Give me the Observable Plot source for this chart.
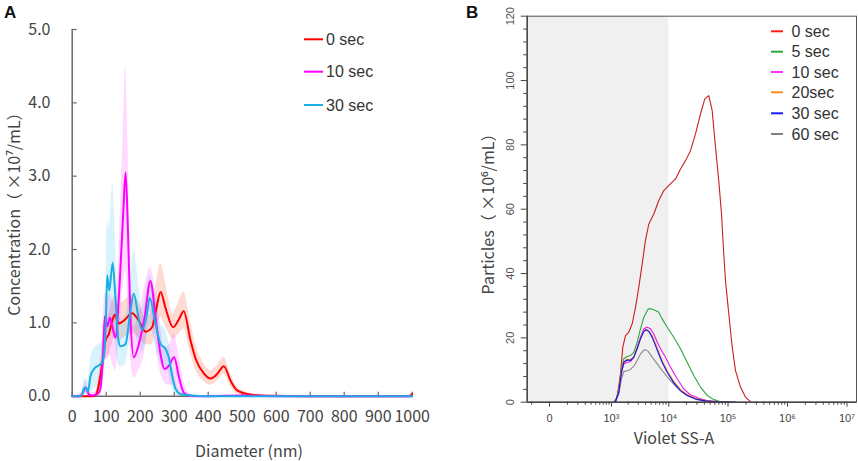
<!DOCTYPE html>
<html><head><meta charset="utf-8">
<script src="https://cdn.jsdelivr.net/npm/d3@7"></script>
<script src="https://cdn.jsdelivr.net/npm/@observablehq/plot@0.6"></script>
<style>
body{margin:0;background:#fff;}
#wrap{position:relative;width:858px;height:461px;overflow:hidden;}
#wrap > svg{position:absolute;top:0;}
</style></head><body><div id="wrap"></div>
<script>
const FONT = "'Noto Sans CJK JP','Noto Sans',sans-serif";
const LEGFONT = "'Liberation Sans',Arial,sans-serif";

// ---------- Panel A data (Diameter nm vs concentration x10^7/mL) ----------
const redD  = [0, 60, 70, 80, 90, 98, 108, 118, 125, 137, 152, 176, 196, 216, 235, 248, 260, 274, 297, 314, 328, 348, 363, 387, 407, 426, 446, 466, 485, 515, 554, 600, 700, 800, 900, 990, 1000];
const redV  = [0, 0, 0.02, 0.2, 0.5, 0.76, 0.85, 1.03, 1.11, 0.99, 1.03, 1.13, 1.03, 0.88, 0.94, 1.21, 1.42, 1.21, 0.94, 1.05, 1.16, 0.76, 0.51, 0.31, 0.24, 0.3, 0.41, 0.21, 0.08, 0.03, 0.01, 0.005, 0, 0, 0, 0, 0.03];
const redLo = [0, 0, 0, 0.08, 0.28, 0.5, 0.58, 0.72, 0.8, 0.75, 0.8, 0.86, 0.8, 0.7, 0.7, 0.95, 1.08, 0.95, 0.78, 0.85, 0.92, 0.58, 0.36, 0.2, 0.15, 0.2, 0.3, 0.13, 0.03, 0, 0, 0, 0, 0, 0, 0, 0];
const redHi = [0, 0, 0.05, 0.35, 0.75, 0.98, 1.1, 1.3, 1.36, 1.25, 1.3, 1.38, 1.28, 1.06, 1.18, 1.55, 1.81, 1.55, 1.12, 1.3, 1.42, 1.0, 0.7, 0.45, 0.35, 0.42, 0.53, 0.3, 0.13, 0.05, 0.02, 0.01, 0.01, 0.01, 0.01, 0.01, 0.05];

const magD  = [0, 20, 30, 39, 50, 60, 75, 83, 90, 96, 103, 111, 118, 127, 140, 150, 157, 164, 171, 181, 196, 213, 230, 245, 258, 272, 285, 300, 314, 328, 343, 360, 400, 500, 600, 1000];
const magV  = [0, 0, 0.03, 0.12, 0.02, 0.01, 0.03, 0.1, 0.5, 1.09, 0.95, 1.07, 0.95, 0.8, 1.58, 2.49, 3.05, 2.26, 1.12, 0.53, 0.71, 1.08, 1.57, 1.08, 0.62, 0.37, 0.42, 0.53, 0.26, 0.05, 0.01, 0, 0, 0.01, 0, 0];
const magLo = [0, 0, 0, 0.05, 0, 0, 0, 0.02, 0.2, 0.5, 0.5, 0.55, 0.45, 0.35, 0.9, 1.5, 1.7, 1.3, 0.6, 0.25, 0.35, 0.6, 1.15, 0.7, 0.35, 0.18, 0.15, 0.15, 0.05, 0, 0, 0, 0, 0, 0, 0];
const magHi = [0, 0.02, 0.08, 0.2, 0.08, 0.05, 0.08, 0.25, 0.9, 1.4, 1.3, 1.4, 1.3, 1.25, 2.3, 3.6, 4.5, 3.4, 1.8, 0.95, 1.1, 1.5, 1.75, 1.45, 1.0, 0.65, 0.7, 0.85, 0.55, 0.2, 0.05, 0.01, 0.01, 0.02, 0.01, 0.01];

const cyaD  = [0, 25, 30, 34, 40, 46, 54, 64, 78, 88, 93, 98, 103, 109, 119, 127, 135, 142, 157, 169, 181, 196, 206, 218, 228, 245, 260, 274, 284, 294, 304, 318, 350, 400, 1000];
const cyaV  = [0, 0, 0.03, 0.1, 0.12, 0.06, 0.28, 0.37, 0.42, 0.46, 0.55, 0.85, 1.65, 1.44, 1.82, 1.35, 0.8, 0.68, 0.71, 1.08, 1.4, 1.05, 0.9, 1.08, 1.34, 0.99, 0.71, 0.65, 0.53, 0.28, 0.1, 0.03, 0.01, 0, 0];
const cyaLo = [0, 0, 0, 0.02, 0.03, 0, 0.05, 0.1, 0.15, 0.2, 0.25, 0.45, 1.0, 0.8, 1.0, 0.7, 0.45, 0.4, 0.45, 0.75, 0.9, 0.7, 0.6, 0.75, 0.95, 0.7, 0.45, 0.4, 0.3, 0.12, 0.02, 0, 0, 0, 0];
const cyaHi = [0, 0.02, 0.1, 0.2, 0.25, 0.2, 0.5, 0.65, 0.7, 0.75, 0.9, 1.3, 2.4, 2.3, 2.9, 2.2, 1.3, 1.05, 1.1, 1.5, 2.0, 1.5, 1.2, 1.4, 1.65, 1.35, 1.0, 0.9, 0.75, 0.45, 0.2, 0.06, 0.02, 0, 0];

const xTicksA = [0, 100, 200, 300, 400, 500, 600, 700, 800, 900, 1000];
const yTicksA = [0, 1, 2, 3, 4, 5];
const legendA = ["0 sec", "10 sec", "30 sec"];

// ---------- Panel B data (Violet SS-A vs particles x10^6/mL) ----------
const redX  = [1105, 1272, 1460, 1606, 1793, 2055, 2355, 2690, 3070, 3515, 4000, 4570, 5560, 6770, 8240, 10020, 13020, 15820, 19220, 23340, 28340, 34400, 40640, 47430, 54100, 61560, 69880, 77700, 84850, 90680, 103000, 117700, 133600, 162100, 196700, 238700];
const redY  = [0, 1.6, 8.8, 17.1, 20.7, 21.8, 24.4, 29.5, 35.8, 43.0, 50.3, 55.4, 58.5, 62.7, 65.8, 67.4, 69.4, 72.5, 75.1, 78.2, 83.4, 89.6, 94.3, 95.3, 90.7, 79.3, 68.9, 58.5, 46.1, 37.8, 27.5, 17.1, 9.8, 4.7, 1.6, 0.2];
const greenX = [1100, 1186, 1362, 1522, 1674, 1923, 2196, 2512, 2878, 3283, 3746, 4460, 5080, 5950, 6770, 7730, 9410, 12170, 15820, 20510, 26510, 34410, 44570, 57580, 79700];
const greenY = [0, 0.2, 4.1, 10.4, 13.5, 14.2, 14.5, 15.5, 18.7, 22.8, 26.4, 29.0, 29.0, 28.5, 28.0, 25.9, 23.3, 20.2, 16.6, 12.4, 8.3, 4.7, 2.1, 0.8, 0];
const magX  = [1100, 1186, 1362, 1522, 1674, 1923, 2196, 2512, 2878, 3283, 3746, 4285, 4880, 5560, 6360, 7240, 8810, 10710, 13900, 17970, 23340, 32180, 47430, 70000, 134000];
const magY  = [0, 0.2, 3.6, 9.3, 11.9, 12.4, 12.6, 14.0, 17.1, 20.2, 22.8, 23.3, 22.8, 21.2, 18.7, 16.6, 14.0, 10.9, 7.3, 4.1, 2.3, 1.2, 0.4, 0.2, 0];
const orangeX = [1100, 1186, 1362, 1522, 1674, 1923, 2196, 2512, 2878, 3283, 3746, 4117, 4567, 5220, 5950, 6770, 7730, 9410, 12170, 15820, 20510, 28340, 41780, 57580, 80000, 134000];
const orangeY = [0, 0.2, 3.3, 9.6, 12.6, 13.3, 13.2, 14.2, 16.8, 19.9, 22.2, 22.6, 22.1, 20.6, 18.2, 15.5, 12.8, 9.8, 6.5, 3.9, 2.4, 1.2, 0.5, 0.2, 0.1, 0];
const blueX = [1100, 1186, 1362, 1522, 1674, 1923, 2196, 2512, 2878, 3283, 3746, 4117, 4567, 5220, 5950, 6770, 7730, 9410, 12170, 15820, 20510, 28340, 41780, 57580, 80000, 134000];
const blueY = [0, 0.2, 3.1, 9.3, 12.4, 13.1, 13.0, 14.0, 16.6, 19.7, 22.0, 22.5, 22.0, 20.2, 17.6, 15.0, 12.4, 9.3, 6.0, 3.6, 2.1, 1.0, 0.4, 0.2, 0.1, 0];
const grayX = [1100, 1186, 1362, 1522, 1674, 1923, 2196, 2512, 2878, 3283, 3899, 4460, 5220, 6360, 7730, 10020, 13020, 16880, 21830, 30240, 41780, 60000, 100000];
const grayY = [0, 0.2, 2.6, 7.3, 9.5, 9.8, 10.2, 11.2, 13.0, 15.0, 16.4, 15.8, 14.0, 11.9, 9.8, 7.3, 5.0, 3.1, 1.9, 0.8, 0.3, 0.1, 0];

const legendB = ["0 sec", "5 sec", "10 sec", "20sec", "30 sec", "60 sec"];
const xMajorB = [0, 1e3, 1e4, 1e5, 1e6, 1e7];
const xLabelsB = ["0", "10³", "10⁴", "10⁵", "10⁶", "10⁷"];
const xMinorB = [-100, 100, 200, 300, 400, 500, 600, 700, 800, 900,
  2e3, 3e3, 4e3, 5e3, 6e3, 7e3, 8e3, 9e3, 2e4, 3e4, 4e4, 5e4, 6e4, 7e4, 8e4, 9e4,
  2e5, 3e5, 4e5, 5e5, 6e5, 7e5, 8e5, 9e5, 2e6, 3e6, 4e6, 5e6, 6e6, 7e6, 8e6, 9e6];
const yMajorB = [0, 20, 40, 60, 80, 100, 120];
const yMinorB = [4, 8, 12, 16, 24, 28, 32, 36, 44, 48, 52, 56, 64, 68, 72, 76, 84, 88, 92, 96, 104, 108, 112, 116];
const gateMaxB = 1e4;

// ---------- build ----------
const rowsA = (d, v, lo, hi) => d.map((x, i) => ({d: x, v: v[i], lo: lo[i], hi: hi[i]}));
const rowsB = (x, y) => x.map((v, i) => ({x: v, y: y[i]}));

const colA = ["#ff0000", "#ff00ff", "#19aee6"];
const bandA = ["#ff6a50", "#ff00ff", "#00b0f0"];
const serA = [rowsA(redD, redV, redLo, redHi), rowsA(magD, magV, magLo, magHi), rowsA(cyaD, cyaV, cyaLo, cyaHi)];

const mA = {l: 71.7, r: 18.3, t: 29, b: 65.3};
const wA = 430, hA = 461;
const frameHA = hA - mA.t - mA.b, frameWA = wA - mA.l - mA.r;

const plotA = Plot.plot({
  width: wA, height: hA,
  marginLeft: mA.l, marginRight: mA.r, marginTop: mA.t, marginBottom: mA.b,
  x: {domain: [0, 1000]},
  y: {domain: [0, 5]},
  style: {fontFamily: FONT, fontSize: "16px", color: "#444", background: "transparent", overflow: "visible"},
  marks: [
    ...serA.map((s, i) => Plot.areaY(s, {x: "d", y1: "lo", y2: "hi", fill: bandA[i], fillOpacity: i === 0 ? 0.25 : 0.15, curve: "monotone-x"})),
    Plot.ruleX([0], {stroke: "#6a6a6a", strokeWidth: 1.5}),
    Plot.ruleY([0], {stroke: "#6a6a6a", strokeWidth: 1.5}),
    Plot.tickX(xTicksA, {x: d => d, stroke: "#6a6a6a", strokeWidth: 1.2, insetTop: frameHA - 4}),
    Plot.tickY(yTicksA, {y: d => d, stroke: "#6a6a6a", strokeWidth: 1.2, insetRight: frameWA - 5}),
    ...serA.map((s, i) => Plot.lineY(s, {x: "d", y: "v", stroke: colA[i], strokeWidth: 2, curve: "monotone-x"})),
    Plot.axisX({ticks: xTicksA, tickSize: 0, tickPadding: 14, tickFormat: d => String(d), label: null, fill: "#444"}),
    Plot.axisY({ticks: yTicksA, tickSize: 0, tickPadding: 21.7, tickFormat: d => d.toFixed(1), label: null, fill: "#444"})
  ]
});
plotA.style.left = "0px";

const mB = {l: 96.7, r: 2, t: 15.7, b: 59.3};
const wB = 428, hB = 461;
const colB = ["#c8201c", "#2aa83a", "#e21ee2", "#ff8c1a", "#1010ee", "#8a8a8a"];
const serB = [rowsB(redX, redY), rowsB(greenX, greenY), rowsB(magX, magY), rowsB(orangeX, orangeY), rowsB(blueX, blueY), rowsB(grayX, grayY)];
const drawOrder = [0, 1, 5, 2, 3, 4];

const plotB = Plot.plot({
  width: wB, height: hB,
  marginLeft: mB.l, marginRight: mB.r, marginTop: mB.t, marginBottom: mB.b,
  x: {type: "symlog", constant: 100, domain: [-137, 1.445e7]},
  y: {domain: [0, 120]},
  style: {fontFamily: FONT, fontSize: "11px", color: "#444", background: "transparent", overflow: "visible"},
  marks: [
    Plot.rect([{x1: -137, x2: gateMaxB}], {x1: "x1", x2: "x2", fill: "#f0f0f0"}),
    ...drawOrder.map(i => Plot.line(serB[i], {x: "x", y: "y", stroke: colB[i], strokeWidth: 1.1})),
    Plot.frame({stroke: "#555", strokeWidth: 1}),
    Plot.ruleX([-137], {stroke: "#444", strokeWidth: 1.4}),
    Plot.ruleY([0], {stroke: "#444", strokeWidth: 1.4}),
    Plot.axisX({ticks: xMajorB, tickSize: 5, tickPadding: 7, tickFormat: d => xLabelsB[xMajorB.indexOf(d)], label: null, stroke: "#444", fill: "#444", fontFamily: LEGFONT, fontSize: 11}),
    Plot.axisX({ticks: xMinorB, tickSize: 3, tickFormat: () => "", label: null, stroke: "#444"}),
    Plot.axisY({ticks: yMajorB, tickSize: 6, tickFormat: () => "", label: null, stroke: "#444"}),
    Plot.axisY({ticks: yMinorB, tickSize: 3.5, tickFormat: () => "", label: null, stroke: "#444"}),
    Plot.text(yMajorB, {y: d => d, text: d => String(d), frameAnchor: "left", dx: -16.5, rotate: -90, fontSize: 11, fill: "#555", fontFamily: LEGFONT, textAnchor: "middle", lineAnchor: "middle"})
  ]
});
plotB.style.left = "430px";

const wrap = document.getElementById("wrap");
wrap.appendChild(plotA);
wrap.appendChild(plotB);

// ---------- overlay: panel letters, axis titles, legends ----------
const NS = "http://www.w3.org/2000/svg";
const ov = document.createElementNS(NS, "svg");
ov.setAttribute("width", 858); ov.setAttribute("height", 461);
ov.style.left = "0px";
function txt(s, attrs) {
  const t = document.createElementNS(NS, "text");
  for (const k in attrs) t.setAttribute(k, attrs[k]);
  t.textContent = s; ov.appendChild(t); return t;
}
function ln(x1, y1, x2, y2, c, w) {
  const l = document.createElementNS(NS, "line");
  l.setAttribute("x1", x1); l.setAttribute("y1", y1); l.setAttribute("x2", x2); l.setAttribute("y2", y2);
  l.setAttribute("stroke", c); l.setAttribute("stroke-width", w); ov.appendChild(l);
}
const bold = {"font-family": LEGFONT, "font-weight": "bold", "font-size": 17, fill: "#111"};
txt("A", {...bold, x: 4, y: 17.5});
txt("B", {...bold, x: 466, y: 17.5});
const lab = {"font-family": FONT, "font-size": 16, fill: "#444", "text-anchor": "middle", "dominant-baseline": "central"};
txt("Concentration（ ×10⁷/mL）", {...lab, transform: "translate(12.5,210) rotate(-90)"});
txt("Diameter (nm)", {...lab, x: 249, y: 450});
txt("Particles（ ×10⁶/mL）", {...lab, transform: "translate(487,210) rotate(-90)"});
txt("Violet SS-A", {...lab, x: 674, y: 437});
const leg = {"font-family": LEGFONT, "font-size": 16, fill: "#333", "text-anchor": "start", "dominant-baseline": "central"};
const legA_y = [39.3, 71.7, 105];
legendA.forEach((s, i) => {
  ln(304, legA_y[i], 323, legA_y[i], colA[i], 2);
  txt(s, {...leg, x: 326, y: legA_y[i]});
});
const legB_col = ["#ff1a1a", "#2aa83a", "#ff33ff", "#ff8c1a", "#1a1aff", "#808080"];
const legB_y = [31.3, 51.7, 72, 92.3, 113.3, 134];
legendB.forEach((s, i) => {
  ln(771, legB_y[i], 783, legB_y[i], legB_col[i], 2);
  txt(s, {...leg, x: 791.5, y: legB_y[i]});
});
wrap.appendChild(ov);
</script></body></html>
